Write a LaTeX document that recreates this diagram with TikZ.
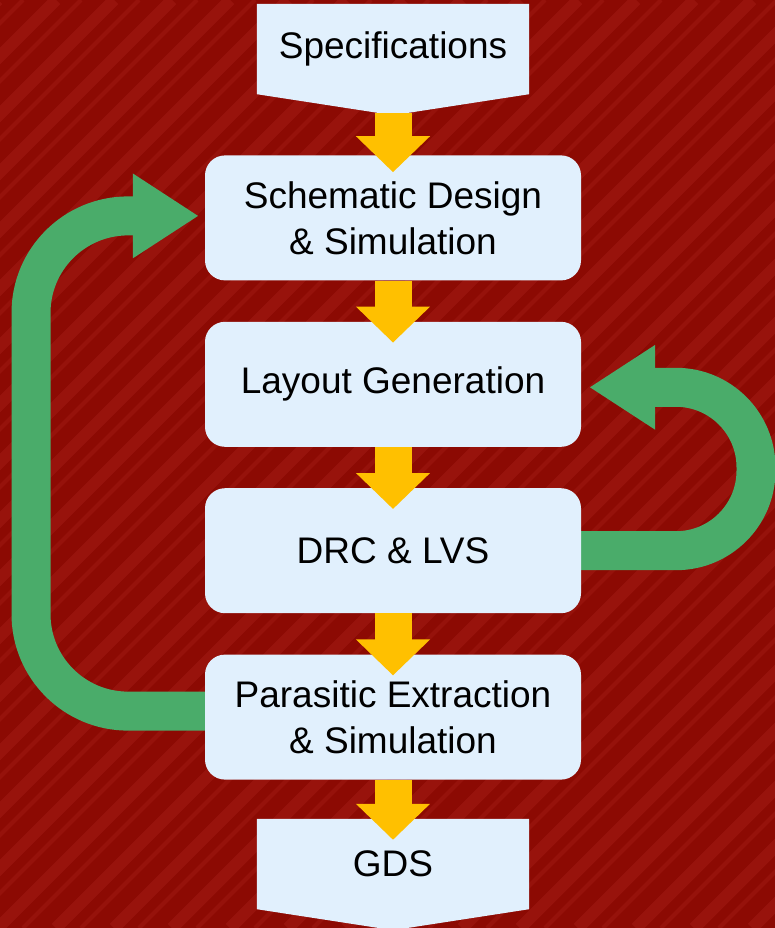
\documentclass[tikz,border=0pt]{standalone}
\usepackage{fontspec}
\setmainfont{Liberation Sans}
\usetikzlibrary{arrows.meta}
\usetikzlibrary{positioning}
\usetikzlibrary{backgrounds}

\definecolor{chipred}{RGB}{140,10,3}
\definecolor{chiplight}{RGB}{180,42,36}
\definecolor{boxblue}{RGB}{225,240,253}
\definecolor{flowgold}{RGB}{255,192,0}
\definecolor{loopgreen}{RGB}{74,172,106}

\tikzset{
  stepbox/.style={fill=boxblue, rounded corners=20pt, minimum width=376pt,
    minimum height=125pt, align=center, inner sep=0pt},
  endbox/.style={minimum width=272pt, minimum height=90pt, align=center, inner sep=0pt},
  flow/.style={flowgold, line width=37pt, -{Triangle[length=36pt, width=72pt]}},
  backloop/.style={loopgreen, line width=39pt, -{Triangle[length=66pt, width=80pt]}},
  grain/.style={chiplight, line width=12pt, opacity=0.3},
  finegrain/.style={chiplight, line width=4pt, opacity=0.25},
}

\begin{document}
\begin{tikzpicture}[x=1pt, y=1pt, line join=miter, font=\fontsize{37}{46}\selectfont]
\useasboundingbox (0,0) rectangle (775,-928);

% flow steps
\node[endbox] (spec) at (393,-49) {Specifications};
\node[stepbox, below=61pt of spec] (sch) {Schematic Design\\ \& Simulation};
\node[stepbox, below=41pt of sch] (lay) {Layout Generation};
\node[stepbox, below=41pt of lay] (drc) {DRC \& LVS};
\node[stepbox, below=41pt of drc] (pe) {Parasitic Extraction\\ \& Simulation};
\node[endbox, below=39pt of pe] (gds) {GDS};

\coordinate (lft) at (31,0);
\coordinate (rgt) at (756,0);

\begin{scope}[on background layer]
  % die photo backdrop
  \fill[chipred] (0,0) rectangle (775,-928);
  \begin{scope}
    \clip (0,0) rectangle (775,-928);
    \foreach \k in {-930,-872,...,780}
      \draw[grain] (\k,-928) -- ++(928,928);
    \foreach \k in {-905,-847,...,800}
      \draw[finegrain] (\k,-928) -- ++(928,928);
  \end{scope}
  % pointed boxes
  \fill[boxblue] (spec.north west) -- (spec.north east) -- (spec.south east)
    -- ([yshift=-21pt]spec.south) -- (spec.south west) -- cycle;
  \fill[boxblue] (gds.north west) -- (gds.north east) -- (gds.south east)
    -- ([yshift=-21pt]gds.south) -- (gds.south west) -- cycle;
  % iteration loops
  \draw[backloop, rounded corners=97pt] ([yshift=6pt]pe.west) -- ([yshift=6pt]pe.west -| lft)
    -- ([yshift=2pt]sch.west -| lft) -- ([shift={(-6pt,2pt)}]sch.west);
  \draw[backloop, rounded corners=80pt] (drc.east) -- (drc.east -| rgt)
    -- ([yshift=-3pt]lay.east -| rgt) -- ([shift={(8pt,-3pt)}]lay.east);
\end{scope}

% forward arrows
\draw[flow] ([yshift=-19pt]spec.south) -- ([yshift=-17pt]sch.north);
\draw[flow] (sch.south) -- ([yshift=-21pt]lay.north);
\draw[flow] (lay.south) -- ([yshift=-21pt]drc.north);
\draw[flow] (drc.south) -- ([yshift=-21pt]pe.north);
\draw[flow] (pe.south) -- ([yshift=-21pt]gds.north);
\end{tikzpicture}
\end{document}
